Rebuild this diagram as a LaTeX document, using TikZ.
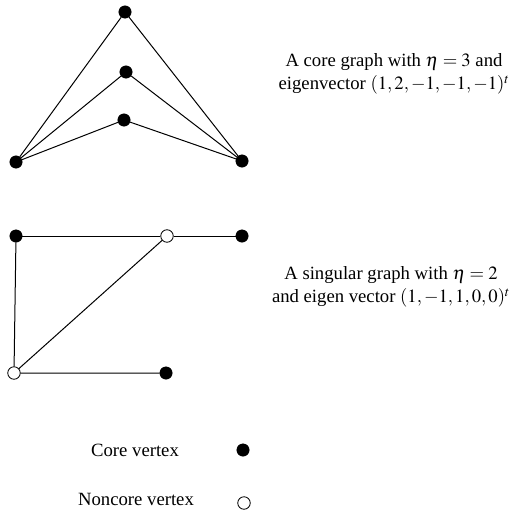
\documentclass[tikz,border=0pt]{standalone}
\usepackage{mathptmx}
\usepackage{fontspec}
\setmainfont{Liberation Serif}
\begin{document}
\begin{tikzpicture}[x=1pt,y=-1pt,
  core/.style={circle,fill=black,draw=black,inner sep=0pt,minimum size=12.5pt},
  noncore/.style={circle,fill=white,draw=black,line width=0.8pt,inner sep=0pt,minimum size=12.5pt},
  edge/.style={draw=black,line width=1pt},
  lbl/.style={align=center,font=\fontsize{18.7}{23.5}\selectfont,inner sep=0pt}]
\useasboundingbox (0,0) rectangle (509,514);
% top graph
\node[core] (t1) at (125,12) {};
\node[core] (t2) at (126,72) {};
\node[core] (t3) at (124,120) {};
\node[core] (tl) at (16,162) {};
\node[core] (tr) at (242,161) {};
\draw[edge] (tl) -- (t1) -- (tr);
\draw[edge] (tl) -- (t2) -- (tr);
\draw[edge] (tl) -- (t3) -- (tr);
% bottom graph
\node[core] (a) at (16,236) {};
\node[noncore] (b) at (167,236) {};
\node[core] (c) at (242,236) {};
\node[noncore] (d) at (14,373) {};
\node[core] (e) at (166,373) {};
\draw[edge] (a) -- (b) -- (c);
\draw[edge] (a) -- (d) -- (e);
\draw[edge] (d) -- (b);
% labels
\node[lbl] (l1) at (394,74) {A core graph with $\eta=3$ and\\eigenvector $(1,2,-1,-1,-1)^t$};
\node[lbl] (l2) at (391,287) {A singular graph with $\eta=2$\\and eigen vector $(1,-1,1,0,0)^t$};
% legend
\node[lbl] (k1) at (135,450) {Core vertex};
\node[core] (k1d) at (243,450) {};
\node[lbl] (k2) at (136,499) {Noncore vertex};
\node[noncore] (k2d) at (244,503) {};
\end{tikzpicture}
\end{document}
